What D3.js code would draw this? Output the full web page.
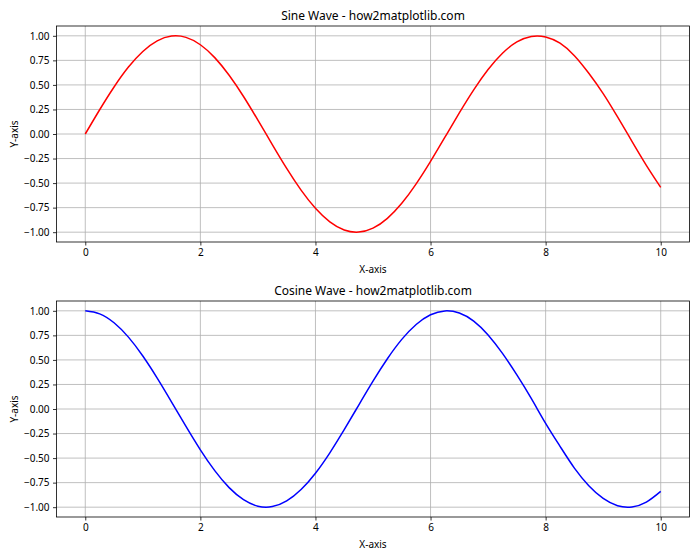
<!DOCTYPE html>
<html>
<head>
<meta charset="utf-8">
<script src="https://cdn.jsdelivr.net/npm/d3@7"></script>
<style>
  body { margin: 0; background: #fff; }
  svg { font-family: "Noto Sans", "Open Sans", sans-serif; }
</style>
</head>
<body>
<svg id="chart" width="700" height="560"></svg>
<script>
const xValues = d3.range(0, 10.001, 0.25);
const sineValues = [0, 0.247, 0.479, 0.682, 0.841, 0.949, 0.997, 0.984, 0.909, 0.778, 0.598, 0.382, 0.141,
  -0.108, -0.351, -0.572, -0.757, -0.895, -0.978, -0.999, -0.959, -0.859, -0.706, -0.508, -0.279, -0.033,
  0.215, 0.450, 0.657, 0.823, 0.938, 0.994, 0.989, 0.925, 0.798, 0.619, 0.412, 0.174, -0.075, -0.319, -0.544];
const cosineValues = [1.000, 0.969, 0.878, 0.732, 0.540, 0.315, 0.071, -0.178, -0.416, -0.628, -0.801, -0.924, -0.990,
  -0.994, -0.936, -0.820, -0.654, -0.446, -0.211, 0.038, 0.284, 0.512, 0.709, 0.861, 0.960, 0.999,
  0.977, 0.895, 0.754, 0.566, 0.347, 0.108, -0.146, -0.380, -0.602, -0.781, -0.911, -0.985, -0.997, -0.948, -0.839];
const xTicks = [0, 2, 4, 6, 8, 10];
const yTicks = [-1, -0.75, -0.5, -0.25, 0, 0.25, 0.5, 0.75, 1];

const panels = [
  { title: "Sine Wave - how2matplotlib.com", values: sineValues, color: "red", top: 26 },
  { title: "Cosine Wave - how2matplotlib.com", values: cosineValues, color: "blue", top: 301 }
];

const svg = d3.select("#chart");
const left = 56.5, right = 689.5, plotH = 216;

const x = d3.scaleLinear().domain([-0.5, 10.5]).range([left, right]);

panels.forEach(p => {
  const y = d3.scaleLinear().domain([-1.1, 1.1]).range([p.top + plotH, p.top]);
  const g = svg.append("g");

  // grid
  g.selectAll(".gx").data(xTicks).enter().append("line")
    .attr("x1", d => x(d)).attr("x2", d => x(d))
    .attr("y1", p.top).attr("y2", p.top + plotH)
    .attr("stroke", "#b0b0b0").attr("stroke-width", 0.8);
  g.selectAll(".gy").data(yTicks).enter().append("line")
    .attr("x1", left).attr("x2", right)
    .attr("y1", d => y(d)).attr("y2", d => y(d))
    .attr("stroke", "#b0b0b0").attr("stroke-width", 0.8);

  // line
  const line = d3.line()
    .x((d, i) => x(xValues[i]))
    .y(d => y(d))
    .curve(d3.curveNatural);
  g.append("path").datum(p.values)
    .attr("d", line)
    .attr("fill", "none")
    .attr("stroke", p.color)
    .attr("stroke-width", 1.5);

  // axes
  const xAxis = g.append("g")
    .attr("transform", "translate(0," + (p.top + plotH) + ")")
    .call(d3.axisBottom(x).tickValues(xTicks).tickSize(3.5).tickPadding(3.5).tickFormat(d3.format("d")));
  const yAxis = g.append("g")
    .attr("transform", "translate(" + left + ",0)")
    .call(d3.axisLeft(y).tickValues(yTicks).tickSize(3.5).tickPadding(3.5).tickFormat(d3.format(".2f")));
  [xAxis, yAxis].forEach(a => {
    a.select(".domain").remove();
    a.selectAll("text").attr("font-size", 10).attr("fill", "#000").attr("font-family", "Noto Sans");
    a.selectAll("line").attr("stroke", "#000").attr("stroke-width", 0.8);
  });

  // frame
  g.append("rect")
    .attr("x", left).attr("y", p.top)
    .attr("width", right - left).attr("height", plotH)
    .attr("fill", "none").attr("stroke", "#000").attr("stroke-width", 0.8);

  g.append("text")
    .attr("x", (left + right) / 2).attr("y", p.top - 6)
    .attr("text-anchor", "middle").attr("font-size", 12)
    .text(p.title);
  g.append("text")
    .attr("x", (left + right) / 2).attr("y", p.top + plotH + 31)
    .attr("text-anchor", "middle").attr("font-size", 10)
    .text("X-axis");
  g.append("text")
    .attr("transform", "translate(18," + (p.top + plotH / 2) + ") rotate(-90)")
    .attr("text-anchor", "middle").attr("font-size", 10)
    .text("Y-axis");
});
</script>
</body>
</html>
